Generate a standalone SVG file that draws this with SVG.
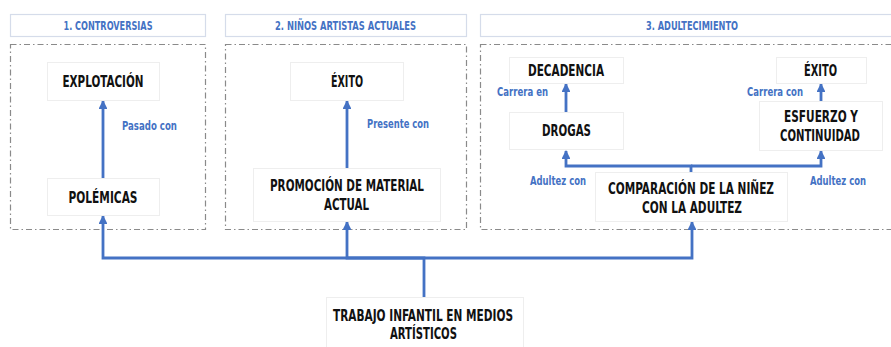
<svg xmlns="http://www.w3.org/2000/svg" width="891" height="347" viewBox="0 0 891 347">
<style>
.hdr{fill:#fff;stroke:#d5dcea;stroke-width:1.2}
.hdrt{font-family:"DejaVu Sans Condensed","Liberation Sans",sans-serif;font-weight:bold;font-size:13px;fill:#4472c4;text-anchor:middle;dominant-baseline:central}
.frame{fill:none;stroke:#8a8a8a;stroke-width:1.2;stroke-dasharray:6 3 1.5 3}
.box{fill:#fff;stroke:#eeeeee;stroke-width:1}
.nt{font-family:"DejaVu Sans Condensed","Liberation Sans",sans-serif;font-weight:bold;font-size:15.5px;fill:#111;text-anchor:middle;dominant-baseline:central}
.lbl{font-family:"DejaVu Sans Condensed","Liberation Sans",sans-serif;font-weight:bold;font-size:13px;fill:#4472c4;text-anchor:middle;dominant-baseline:central}
.ln{fill:none;stroke:#4472c4;stroke-width:2.8}
</style>
<defs>
<marker id="ah" viewBox="0 0 10 10" refX="9" refY="5" markerWidth="3.2" markerHeight="3.2" orient="auto" markerUnits="strokeWidth">
<path d="M0,0 L10,5 L0,10 Z" fill="#4472c4"/>
</marker>
</defs>
<rect width="891" height="347" fill="#fff"/>

<g id="sections">
<rect class="hdr" x="10.5" y="14.5" width="195" height="22"/>
<text class="hdrt" x="108" y="25.5" textLength="89" lengthAdjust="spacingAndGlyphs">1. CONTROVERSIAS</text>
<rect class="hdr" x="225.5" y="14.5" width="241" height="22"/>
<text class="hdrt" x="345.5" y="25.5" textLength="141" lengthAdjust="spacingAndGlyphs">2. NIÑOS ARTISTAS ACTUALES</text>
<rect class="hdr" x="480.5" y="14.5" width="424" height="22"/>
<text class="hdrt" x="692" y="25.5" textLength="92" lengthAdjust="spacingAndGlyphs">3. ADULTECIMIENTO</text>
<rect class="frame" x="10.5" y="44.5" width="195" height="185"/>
<rect class="frame" x="225.5" y="44.5" width="241" height="185"/>
<rect class="frame" x="480.5" y="44.5" width="424" height="185"/>
</g>

<g id="connectors">
<path class="ln" d="M103,178 V101" marker-end="url(#ah)"/>
<path class="ln" d="M347,168 V101" marker-end="url(#ah)"/>
<path class="ln" d="M566,112 V84" marker-end="url(#ah)"/>
<path class="ln" d="M821,101 V84" marker-end="url(#ah)"/>
<path class="ln" d="M691,172 V166 H566 V151" marker-end="url(#ah)"/>
<path class="ln" d="M691,166 H821 V151" marker-end="url(#ah)"/>
<path class="ln" d="M424,297 V258 H103 V216" marker-end="url(#ah)"/>
<path class="ln" d="M424,258 H347 V222" marker-end="url(#ah)"/>
<path class="ln" d="M424,258 H692 V222" marker-end="url(#ah)"/>
<text class="lbl" x="149.5" y="125" textLength="55" lengthAdjust="spacingAndGlyphs">Pasado con</text>
<text class="lbl" x="398" y="123" textLength="62" lengthAdjust="spacingAndGlyphs">Presente con</text>
<text class="lbl" x="522.5" y="91" textLength="51" lengthAdjust="spacingAndGlyphs">Carrera en</text>
<text class="lbl" x="775" y="91" textLength="56" lengthAdjust="spacingAndGlyphs">Carrera con</text>
<text class="lbl" x="558" y="180" textLength="56" lengthAdjust="spacingAndGlyphs">Adultez con</text>
<text class="lbl" x="838" y="180" textLength="56" lengthAdjust="spacingAndGlyphs">Adultez con</text>
</g>

<g id="n-explotacion">
<rect class="box" x="47.5" y="62.5" width="112" height="38"/>
<text class="nt" x="103" y="82" textLength="81" lengthAdjust="spacingAndGlyphs">EXPLOTACIÓN</text>
</g>
<g id="n-polemicas">
<rect class="box" x="47.5" y="178.5" width="112" height="37"/>
<text class="nt" x="103" y="198" textLength="69" lengthAdjust="spacingAndGlyphs">POLÉMICAS</text>
</g>
<g id="n-exito2">
<rect class="box" x="290.5" y="62.5" width="113" height="38"/>
<text class="nt" x="347" y="82" textLength="32" lengthAdjust="spacingAndGlyphs">ÉXITO</text>
</g>
<g id="n-promocion">
<rect class="box" x="253.5" y="168.5" width="187" height="53"/>
<text class="nt" x="347" y="186" textLength="154" lengthAdjust="spacingAndGlyphs">PROMOCIÓN DE MATERIAL</text>
<text class="nt" x="346.5" y="205" textLength="45" lengthAdjust="spacingAndGlyphs">ACTUAL</text>
</g>
<g id="n-decadencia">
<rect class="box" x="509.5" y="57.5" width="114" height="26"/>
<text class="nt" x="566" y="71" textLength="76" lengthAdjust="spacingAndGlyphs">DECADENCIA</text>
</g>
<g id="n-drogas">
<rect class="box" x="509.5" y="112.5" width="114" height="37"/>
<text class="nt" x="566.5" y="131" textLength="49" lengthAdjust="spacingAndGlyphs">DROGAS</text>
</g>
<g id="n-exito3">
<rect class="box" x="776.5" y="57.5" width="90" height="26"/>
<text class="nt" x="820.5" y="71" textLength="33" lengthAdjust="spacingAndGlyphs">ÉXITO</text>
</g>
<g id="n-esfuerzo">
<rect class="box" x="759.5" y="101.5" width="123" height="49"/>
<text class="nt" x="821" y="117" textLength="74" lengthAdjust="spacingAndGlyphs">ESFUERZO Y</text>
<text class="nt" x="820" y="136" textLength="80" lengthAdjust="spacingAndGlyphs">CONTINUIDAD</text>
</g>
<g id="n-comparacion">
<rect class="box" x="595.5" y="172.5" width="192" height="49"/>
<text class="nt" x="691" y="189" textLength="166" lengthAdjust="spacingAndGlyphs">COMPARACIÓN DE LA NIÑEZ</text>
<text class="nt" x="692" y="208" textLength="100" lengthAdjust="spacingAndGlyphs">CON LA ADULTEZ</text>
</g>
<g id="n-trabajo">
<rect class="box" x="326.5" y="297.5" width="197" height="55"/>
<text class="nt" x="423" y="316" textLength="180" lengthAdjust="spacingAndGlyphs">TRABAJO INFANTIL EN MEDIOS</text>
<text class="nt" x="423.5" y="334" textLength="67" lengthAdjust="spacingAndGlyphs">ARTÍSTICOS</text>
</g>
</svg>
